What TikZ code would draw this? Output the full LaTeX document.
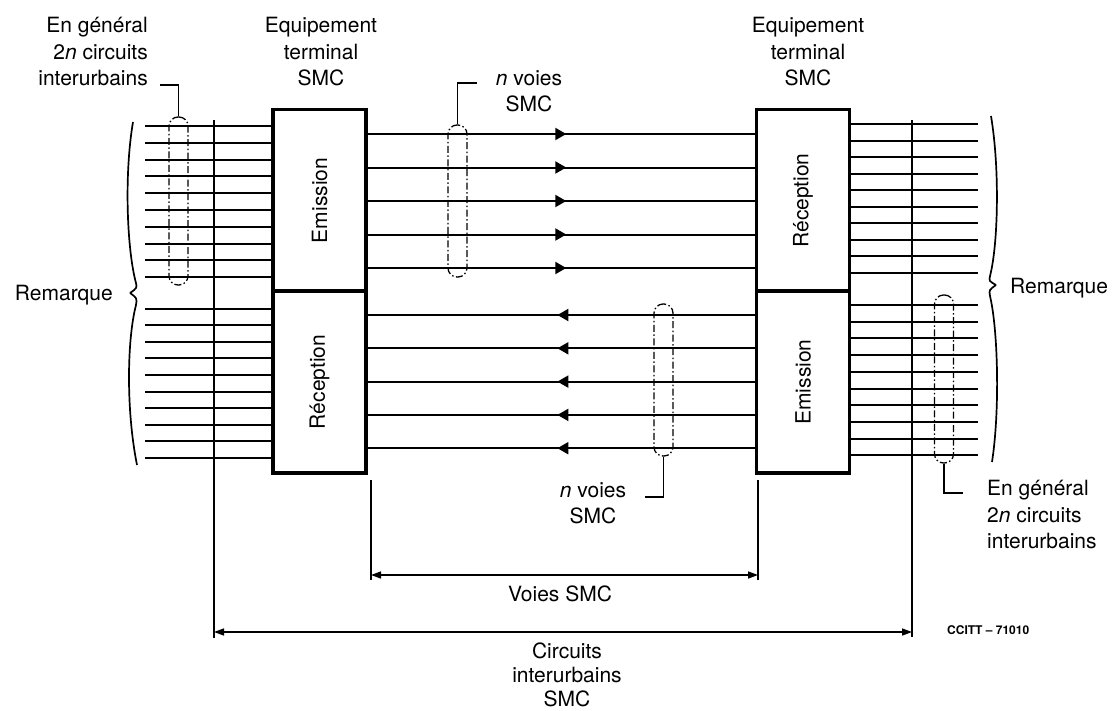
\documentclass[tikz,border=0pt]{standalone}
\usepackage{fontspec}
\setmainfont{TeX Gyre Heros}
\usetikzlibrary{arrows.meta,decorations.markings}
\begin{document}
\begin{tikzpicture}[x=1pt,y=-1pt,
  lab/.style={font=\fontsize{21}{26.5}\selectfont, inner sep=0pt},
  box/.style={draw, line width=3.3pt, minimum width=93pt, minimum height=182pt, inner sep=0pt},
  wire/.style={line width=2pt},
  thinl/.style={line width=1.4pt},
  grp/.style={draw, line width=1.3pt, dash pattern=on 7pt off 2.5pt on 1.5pt off 2.5pt, rounded corners=9pt, minimum width=19pt, inner sep=0pt},
  dim/.style={line width=1.4pt, {Triangle[length=10pt,width=7pt]}-{Triangle[length=10pt,width=7pt]}},
  fwd/.style={wire, postaction=decorate, decoration={markings, mark=at position 0.513 with {\arrow{Triangle[length=11pt,width=12pt]}}}},
  bwd/.style={wire, postaction=decorate, decoration={markings, mark=at position 0.51 with {\arrow{Triangle[length=11pt,width=12pt]}}}},
  brc/.style={line width=1.7pt},
]
\useasboundingbox (0,0) rectangle (1118,710);

% boxes
\node[box] (eT) at (319.5,200.5) {};
\node[box] (rB) at (319.5,382) {};
\node[box] (rT) at (803,200.5) {};
\node[box] (eB) at (803,382) {};
\node[lab, rotate=90] (tEmL) at (eT.center) {Emission};
\node[lab, rotate=90] (tRecL) at (rB.center) {Réception};
\node[lab, rotate=90] (tRecR) at (rT.center) {Réception};
\node[lab, rotate=90] (tEmR) at (eB.center) {Emission};

% outer wires
\foreach \i in {0,...,9}{
  \pgfmathsetmacro\ya{126+16.8*\i}
  \pgfmathsetmacro\yb{308.5+16.6*\i}
  \coordinate (a\i) at (145,\ya);
  \coordinate (b\i) at (145,\yb);
  \draw[wire] (a\i) -- (a\i -| eT.west);
  \draw[wire] (b\i) -- (b\i -| rB.west);
  \pgfmathsetmacro\yc{124+16.5*\i}
  \pgfmathsetmacro\yd{305+16.7*\i}
  \coordinate (c\i) at (978,\yc);
  \coordinate (d\i) at (978,\yd);
  \draw[wire] (c\i -| rT.east) -- (c\i);
  \draw[wire] (d\i -| eB.east) -- (d\i);
}

% middle channels
\foreach \i in {0,...,4}{
  \pgfmathsetmacro\ym{134+33.5*\i}
  \pgfmathsetmacro\yn{315+33.3*\i}
  \coordinate (m\i) at (560,\ym);
  \coordinate (n\i) at (560,\yn);
  \draw[fwd] (m\i -| eT.east) -- (m\i -| rT.west);
  \draw[bwd] (n\i -| eB.west) -- (n\i -| rB.east);
}

% vertical reference lines and dimension arrows
\coordinate (LT) at (214,120);
\coordinate (LB) at (214,638);
\coordinate (RT) at (912,120);
\coordinate (RB) at (912,637);
\draw[thinl] (LT) -- (LB);
\draw[thinl] (RT) -- (RB);
\coordinate (cL) at (214,632);
\coordinate (cR) at (912,632);
\draw[dim] (cL) -- (cR);

\coordinate (vLt) at (371,480);
\coordinate (vLb) at (371,580);
\coordinate (vRt) at (758,480);
\coordinate (vRb) at (758,580);
\draw[thinl] (vLt) -- (vLb);
\draw[thinl] (vRt) -- (vRb);
\coordinate (vL) at (371,575);
\coordinate (vR) at (758,575);
\draw[dim] (vL) -- (vR);

% dash-dot groups
\node[grp, minimum height=168pt] (gL) at (178.5,201) {};
\node[grp, minimum height=152pt] (gM1) at (457.5,201) {};
\node[grp, minimum height=152pt] (gM2) at (663.5,380) {};
\node[grp, minimum height=168pt] (gR) at (944,379) {};

% leaders
\coordinate (kL) at (160,85);
\coordinate (kM1) at (477,83);
\coordinate (kM2) at (645,497);
\coordinate (kR) at (963,493);
\draw[thinl] (gL.north) |- (kL);
\draw[thinl] (gM1.north) |- (kM1);
\draw[thinl] (gM2.south) |- (kM2);
\draw[thinl] (gR.south) |- (kR);

% braces
\draw[brc] (133,122) .. controls (124,175) and (127,250) .. (136,283) .. controls (137,288) .. (130,293);
\draw[brc] (130,293) .. controls (137,298) .. (136,305) .. controls (127,340) and (126,410) .. (137,465);
\draw[brc] (991,116) .. controls (1000,170) and (998,245) .. (990,276) .. controls (989,281) .. (996,285);
\draw[brc] (996,285) .. controls (989,290) .. (990,296) .. controls (998,330) and (1000,410) .. (992,462);

% labels
\node[lab, align=right, anchor=north east] (lblL) at (148,17) {En général\\2\textit{n} circuits\\interurbains};
\node[lab, align=center, anchor=north] (lblE1) at (321,17) {Equipement\\terminal\\SMC};
\node[lab, align=center, anchor=north] (lblE2) at (808,17) {Equipement\\terminal\\SMC};
\node[lab, align=center, anchor=north] (lblN1) at (529,70) {\textit{n} voies\\SMC};
\node[lab, align=center, anchor=north] (lblN2) at (593,482) {\textit{n} voies\\SMC};
\node[lab, align=left, anchor=north west] (lblR) at (987,480) {En général\\2\textit{n} circuits\\interurbains};
\node[lab, anchor=base] (lblV) at (560,601) {Voies SMC};
\node[lab, align=center, anchor=north, font=\fontsize{21}{24}\selectfont] (lblC) at (567,643) {Circuits\\interurbains\\SMC};
\node[lab, anchor=base east] (remL) at (113,300) {Remarque};
\node[lab, anchor=base west] (remR) at (1010,293) {Remarque};
\node[font=\bfseries\fontsize{12}{14}\selectfont, anchor=west, inner sep=0pt] (ccitt) at (947,630) {CCITT -- 71010};
\end{tikzpicture}
\end{document}
